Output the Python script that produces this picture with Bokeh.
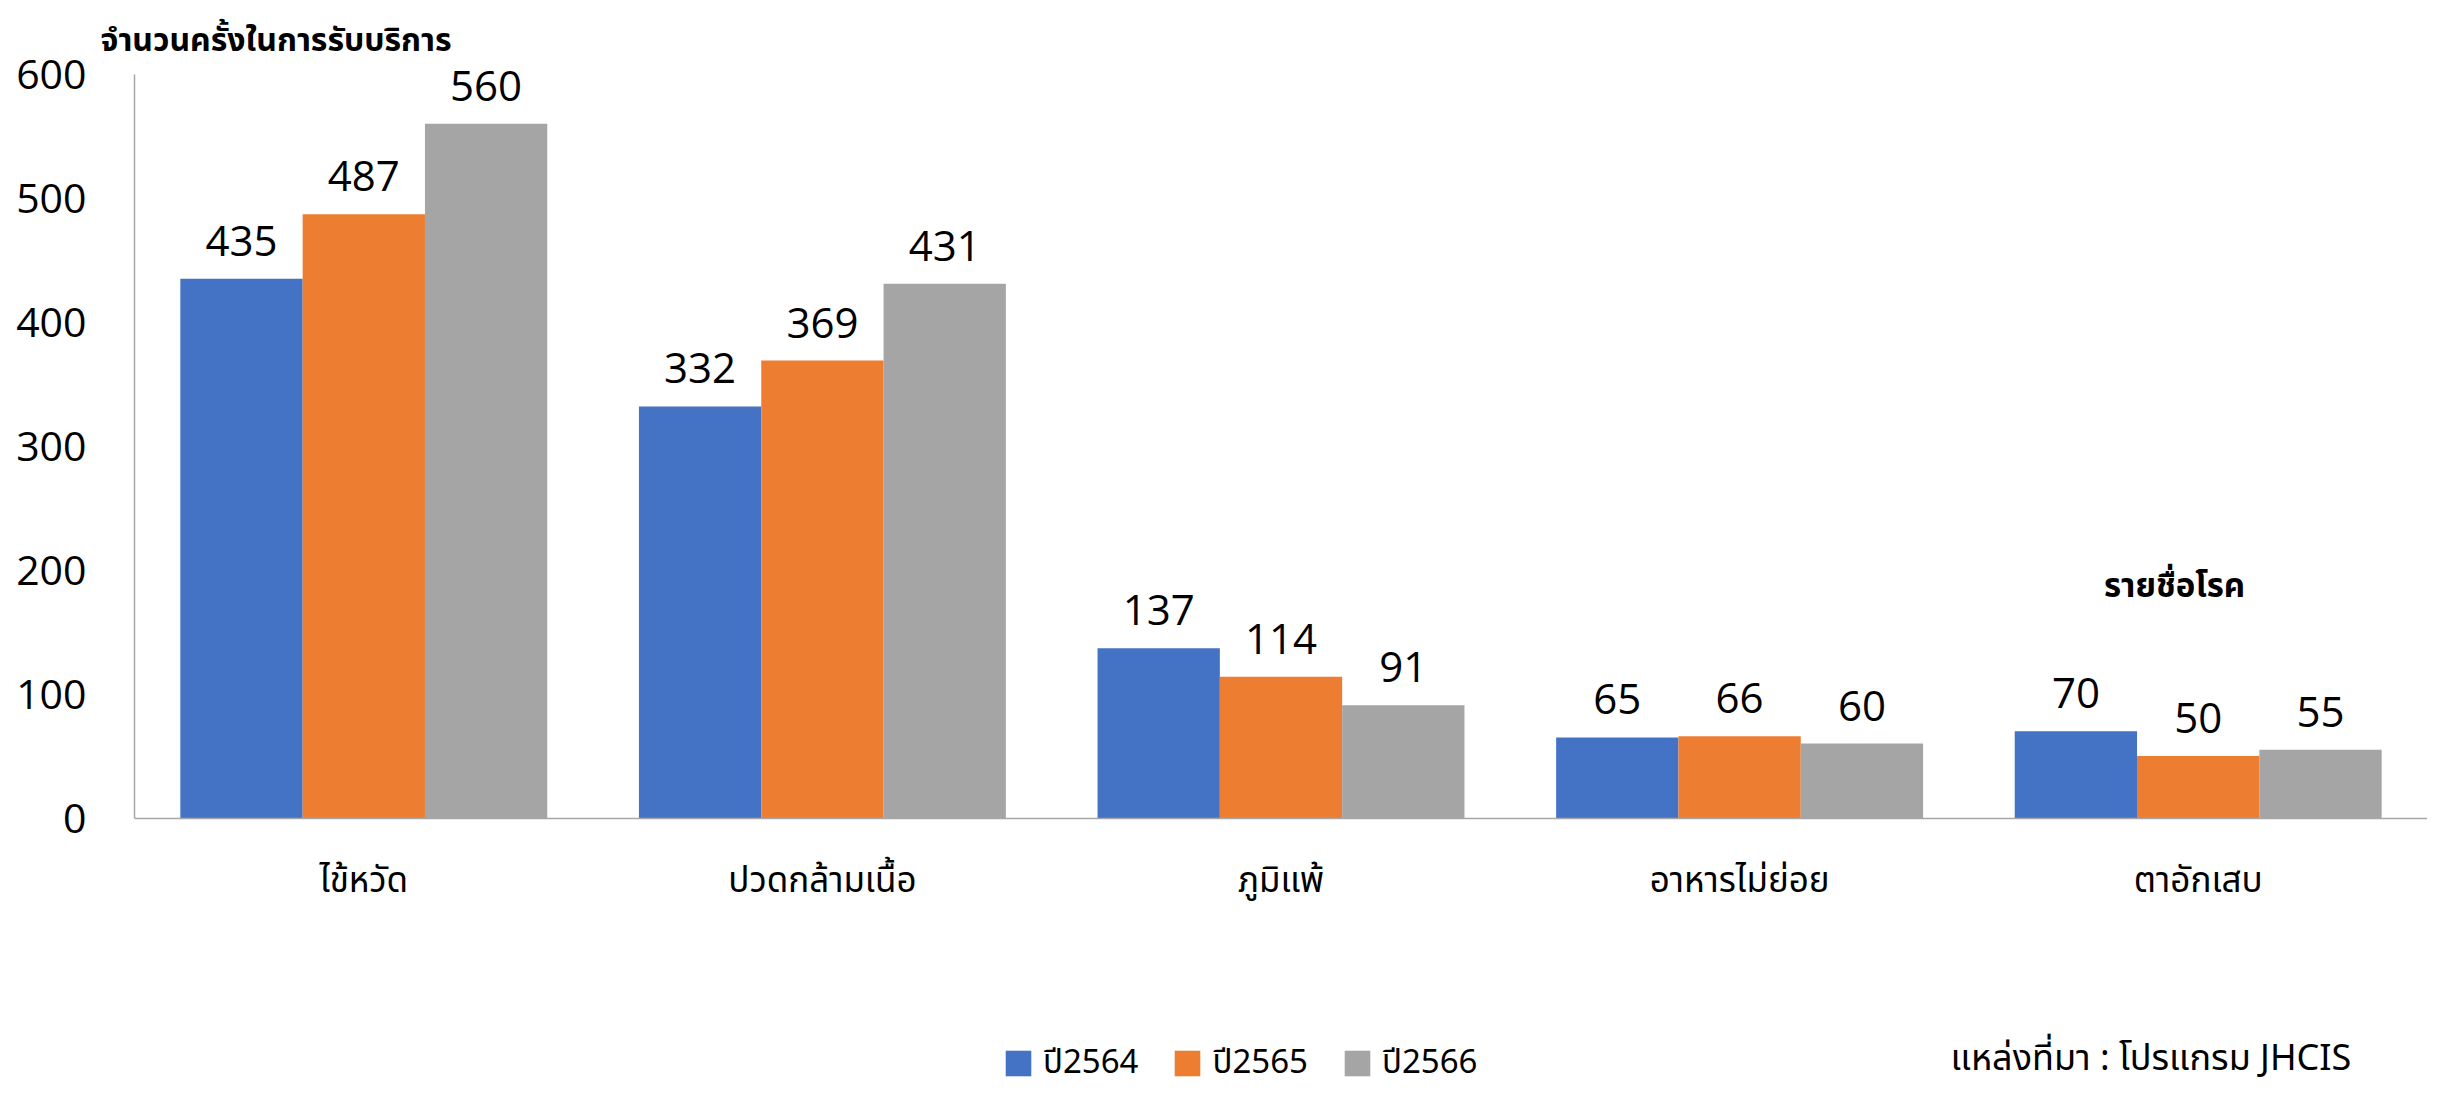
from bokeh.plotting import figure
from bokeh.models import (ColumnDataSource, LabelSet, Label, Legend, LegendItem,
                          FixedTicker, Range1d, FactorRange, Title)
from bokeh.transform import dodge
from bokeh.core.properties import value
from bokeh.embed import file_html
from bokeh.resources import INLINE

categories = ["ไข้หวัด", "ปวดกล้ามเนื้อ", "ภูมิแพ้", "อาหารไม่ย่อย", "ตาอักเสบ"]
y2564 = [435, 332, 137, 65, 70]
y2565 = [487, 369, 114, 66, 50]
y2566 = [560, 431, 91, 60, 55]
series_names = ["ปี2564", "ปี2565", "ปี2566"]
y_ticks = [0, 100, 200, 300, 400, 500, 600]
title_text = "จำนวนครั้งในการรับบริการ"
x_title_text = "รายชื่อโรค"
source_text = "แหล่งที่มา : โปรแกรม JHCIS"

colors = ["#4472C4", "#ED7D31", "#A5A5A5"]
NUM_FONT = "Open Sans"
THAI_FONT = "Noto Sans Thai, Noto Sans Thai UI, Loma, Garuda, Tlwg Typo, sans-serif"

W, H = 2427, 1088
TOP = 64
PX_PER_UNIT = 1.2396
Y0_PX = 817.5
y_hi = 600 + ((Y0_PX - 600 * PX_PER_UNIT) - TOP) / PX_PER_UNIT
y_lo = -(H - Y0_PX) / PX_PER_UNIT

p = figure(x_range=FactorRange(*categories, range_padding=0),
           y_range=Range1d(y_lo, y_hi),
           width=W, height=H,
           output_backend="svg", toolbar_location=None,
           min_border_left=134, min_border_right=0,
           min_border_top=TOP, min_border_bottom=0)
p.outline_line_color = None
p.xgrid.grid_line_color = None
p.ygrid.grid_line_color = None

axis_color = "#A6A6A6"
p.yaxis.ticker = FixedTicker(ticks=y_ticks)
p.yaxis.bounds = (0, 600)
p.yaxis.axis_line_color = axis_color
p.yaxis.axis_line_width = 1.5
p.yaxis.major_tick_line_color = None
p.yaxis.minor_tick_line_color = None
p.yaxis.major_label_standoff = 42
p.yaxis.major_label_text_font = NUM_FONT
p.yaxis.major_label_text_font_size = "41px"
p.yaxis.major_label_text_color = "#000000"

p.xaxis.fixed_location = 0
p.xaxis.axis_line_color = axis_color
p.xaxis.axis_line_width = 1.5
p.xaxis.major_tick_line_color = None
p.xaxis.minor_tick_line_color = None
p.xaxis.major_label_standoff = 31
p.xaxis.major_label_text_font = THAI_FONT
p.xaxis.major_label_text_font_size = "35px"
p.xaxis.major_label_text_color = "#000000"

series = [y2564, y2565, y2566]
offsets = [-0.2667, 0.0, 0.2667]
items = []
for name, vals, off, col in zip(series_names, series, offsets, colors):
    src = ColumnDataSource(dict(cat=categories, val=vals, txt=[str(v) for v in vals]))
    r = p.vbar(x=dodge("cat", off, range=p.x_range), top="val", width=0.2667,
               source=src, fill_color=col, line_color=None)
    items.append(LegendItem(label=name, renderers=[r]))
    lbl = LabelSet(x=dodge("cat", off, range=p.x_range), y="val", text="txt",
                   source=src, y_offset=23, text_align="center",
                   text_baseline="alphabetic", text_font=value(NUM_FONT),
                   text_font_size="42px", text_color="#000000")
    p.add_layout(lbl)

legend = Legend(items=items, orientation="horizontal", location=(868, 0),
                glyph_width=32, glyph_height=32, label_standoff=9, spacing=33,
                padding=0, margin=0, border_line_color=None,
                background_fill_alpha=0,
                label_text_font=THAI_FONT, label_text_font_size="33px",
                label_text_color="#000000")
p.add_layout(legend)

p.add_layout(Title(text=title_text, align="left", offset=-34, standoff=0,
                   vertical_align="bottom", text_font=THAI_FONT,
                   text_font_size="32px", text_font_style="bold",
                   text_color="#000000"), "above")
p.add_layout(Label(x=2040, y=186, x_units="screen", y_units="data",
                   text=x_title_text, text_font=THAI_FONT, text_font_size="33px",
                   text_font_style="bold", text_color="#000000",
                   text_align="center", text_baseline="alphabetic"))
p.add_layout(Label(x=1816, y=3, x_units="screen", y_units="screen",
                   text=source_text, text_font=THAI_FONT, text_font_size="36px",
                   text_color="#000000", text_baseline="bottom"))

open("out.html", "w").write(file_html(p, INLINE))
